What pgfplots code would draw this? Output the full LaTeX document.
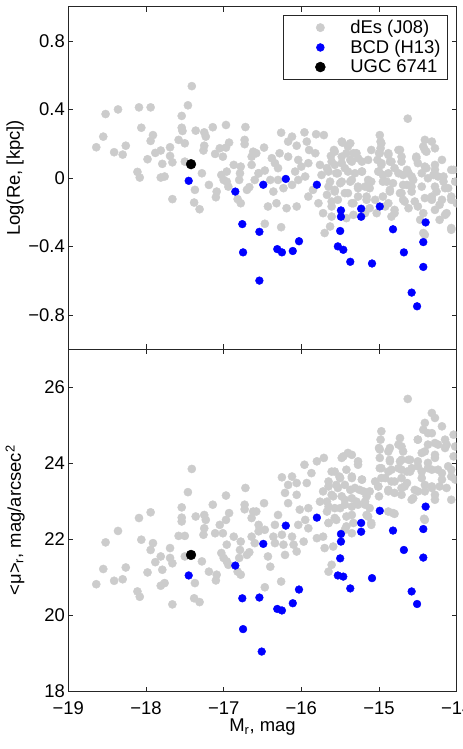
\documentclass[border=0pt]{standalone}
\usepackage{fontspec}
\setmainfont{Liberation Sans}
\usepackage{pgfplots}
\pgfplotsset{compat=1.18}
\definecolor{dEgray}{HTML}{CCCCCC}
\definecolor{bcdblue}{HTML}{0000FF}
\definecolor{frame}{HTML}{262626}
\newcommand{\fs}{\fontsize{18.5}{21}\selectfont}
\newcommand{\lfs}{\fontsize{18.5}{20}\selectfont}

\pgfplotsset{
  panel/.style={
    scale only axis,
    width=388.4bp, height=342.4bp,
    xmin=-19, xmax=-14,
    xtick={-19,-18,-17,-16,-15,-14},
    tick align=inside,
    major tick length=5bp,
    axis line style={frame, line width=0.8bp},
    every tick/.style={frame, line width=0.7bp},
    tick label style={font=\fs},
    xticklabel style={anchor=base, yshift=-22.5bp},
    label style={font=\fs},
    ylabel style={at={(axis description cs:-0.137,0.5)}, anchor=center},
    clip marker paths=true,
  },
  % the invisible path gives the marker cell its width in the legend
  dot legend/.style={legend image code/.code={%
    \path[draw=none] (0bp,0bp) -- (60bp,0bp);
    \draw[mark repeat=3, mark phase=2, ##1, only marks]
      plot coordinates {(0bp,0bp) (32bp,0bp) (60bp,0bp)};}},
  gray dot/.style={only marks, mark=*, mark size=4.1bp, mark options={fill=dEgray, draw=dEgray}, dot legend},
  blue dot/.style={only marks, mark=*, mark size=3.9bp, mark options={fill=bcdblue, draw=bcdblue}, dot legend},
  black dot/.style={only marks, mark=*, mark size=4.9bp, mark options={fill=black, draw=black}, dot legend},
}

\begin{document}
\begin{tikzpicture}
% upper panel: effective radius
\begin{axis}[panel,
  at={(0,342.4bp)},
  ymin=-1, ymax=1,
  ytick={-0.8,-0.4,0,0.4,0.8},
  yticklabels={−0.8,−0.4,0,0.4,0.8},
  xticklabels={},
  ylabel={Log(Re, [kpc])},
  legend style={at={(0.977,0.976)}, anchor=north east, draw=frame, line width=0.6bp,
    font=\lfs, inner xsep=5bp, inner ysep=3bp, row sep=1bp, cells={anchor=west}},
  legend cell align=left,
]
\addplot[gray dot] coordinates {
(-18.64,0.179)(-18.52,0.373)(-18.55,0.241)(-18.36,0.40)(-18.41,0.15)(-18.30,0.136)
(-18.26,0.188)(-18.09,0.412)(-17.94,0.412)(-18.06,0.293)(-17.91,0.25)(-17.94,0.216)
(-18.11,0.035)(-18.08,0.002)(-17.98,0.109)(-17.88,0.146)(-17.81,0.16)(-17.79,0.082)
(-17.81,0.002)(-17.76,0.008)(-17.69,0.179)(-17.69,0.128)(-17.66,0.091)(-17.66,-0.124)
(-17.58,0.222)(-17.50,0.202)(-17.54,0.362)(-17.46,0.424)(-17.41,0.536)(-17.54,0.293)
(-17.53,0.274)(-17.36,0.276)(-17.25,0.266)(-17.23,0.241)(-17.25,0.188)(-17.26,0.16)
(-17.14,0.296)(-16.97,0.309)(-16.72,0.297)(-16.73,0.222)(-16.73,0.197)(-16.93,0.206)
(-16.97,0.177)(-17.05,0.173)(-17.11,0.14)(-17.01,0.124)(-17.50,0.095)(-17.28,0.027)
(-17.37,-0.07)(-17.38,-0.144)(-17.31,-0.183)(-17.19,-0.041)(-17.09,-0.08)(-17.10,-0.113)
(-17.03,0.017)(-17.00,-0.012)(-16.96,0.037)(-16.87,0.076)(-16.78,0.066)(-16.79,0.027)
(-16.80,-0.012)(-16.64,0.076)(-16.64,0.124)(-16.62,0.153)(-16.60,-0.012)(-16.70,-0.07)
(-16.67,-0.054)(-16.82,-0.124)(-16.78,-0.148)(-16.96,-0.022)(-16.94,-0.051)(-16.55,0.027)
(-14.63,0.346)(-15.81,0.255)(-15.71,0.25)(-15.96,0.266)(-16.26,0.264)(-16.12,0.241)
(-16.17,0.212)(-16.06,0.188)(-15.93,0.212)(-15.90,0.163)(-16.48,0.177)(-16.58,0.144)
(-16.34,0.086)(-16.30,0.057)(-16.47,0.043)(-16.55,0.027)(-16.17,0.124)(-16.04,0.105)
(-16.00,0.066)(-16.08,0.037)(-15.91,0.086)(-15.76,0.076)(-15.67,0.057)(-15.74,0.017)
(-15.95,0.008)(-16.04,-0.012)(-16.12,-0.041)(-16.23,-0.06)(-16.36,-0.08)(-16.43,-0.167)
(-16.32,-0.148)(-16.19,-0.177)(-16.06,-0.167)(-15.91,-0.109)(-15.85,-0.07)(-16.47,-0.268)
(-16.26,-0.288)(-15.78,-0.148)(-15.67,-0.099)(-15.72,-0.206)(-15.61,-0.226)(-15.61,-0.167)
(-15.53,-0.128)(-15.57,-0.07)(-15.48,-0.022)(-15.55,0.027)(-15.57,0.076)(-15.62,0.128)
(-15.58,0.163)(-15.47,0.206)(-15.40,0.183)(-15.33,0.144)(-15.27,0.115)(-15.37,0.105)
(-15.44,0.057)(-15.31,0.027)(-15.22,0.037)(-15.35,-0.012)(-15.27,-0.06)(-15.40,-0.089)
(-15.35,-0.148)(-15.16,-0.128)(-15.12,-0.177)(-15.18,-0.206)(-15.33,-0.216)(-15.42,-0.235)
(-15.03,-0.206)(-15.12,-0.06)(-15.10,-0.022)(-15.18,-0.051)(-14.99,0.25)(-14.98,0.212)
(-14.98,0.173)(-15.00,0.144)(-15.02,0.105)(-14.97,0.076)(-15.00,0.037)(-14.95,0.017)
(-14.88,0.134)(-14.86,0.095)(-14.80,0.057)(-14.75,0.163)(-14.71,0.124)(-14.90,-0.022)
(-14.86,-0.07)(-14.95,-0.109)(-14.88,-0.148)(-14.80,-0.187)(-14.84,-0.226)(-14.71,-0.089)
(-14.69,-0.128)(-14.62,-0.177)(-14.64,-0.041)(-14.58,0.008)(-14.64,0.047)(-14.69,0.017)
(-14.52,0.124)(-14.50,0.086)(-14.43,0.183)(-14.39,0.153)(-14.28,0.173)(-14.41,0.222)
(-14.39,0.057)(-14.45,0.027)(-14.37,-0.002)(-14.28,0.047)(-14.24,0.008)(-14.17,-0.022)
(-14.07,0.047)(-14.02,-0.022)(-14.11,-0.06)(-14.26,-0.08)(-14.32,-0.128)(-14.22,-0.157)
(-14.07,-0.128)(-14.00,-0.148)(-14.13,-0.206)(-14.22,-0.245)(-14.07,-0.303)(-14.43,-0.206)
(-14.50,-0.167)(-14.41,-0.332)(-14.47,-0.245)(-14.58,-0.051)(-15.10,0.163)(-15.14,0.105)
(-15.65,-0.051)(-15.48,0.124)(-15.82,0.144)(-16.30,-0.012)(-16.40,-0.012)(-16.28,0.144)
(-16.38,0.115)
(-15.48,0.212)(-15.37,0.202)(-15.57,0.153)(-15.42,0.144)(-15.29,0.144)(-15.61,0.095)
(-15.48,0.086)(-15.35,0.095)(-15.22,0.095)(-15.65,0.037)(-15.53,0.027)(-15.40,0.037)
(-15.22,0.037)(-15.63,-0.022)(-15.50,-0.031)(-15.37,-0.022)(-15.27,-0.051)(-15.14,-0.012)
(-15.57,-0.08)(-15.44,-0.089)(-15.27,-0.109)(-15.16,-0.109)(-15.61,-0.138)(-15.33,-0.148)
(-15.05,-0.128)(-14.97,0.202)(-14.99,0.144)(-14.88,0.144)(-14.84,0.095)(-14.97,0.086)
(-15.01,0.037)(-14.88,0.027)(-14.73,0.163)(-14.71,0.095)(-14.75,0.027)(-14.62,0.027)
(-14.95,-0.022)(-14.82,-0.031)(-14.69,-0.041)(-14.56,-0.012)(-14.86,-0.08)(-14.73,-0.089)
(-14.58,-0.08)(-14.45,-0.051)(-14.67,-0.138)(-14.54,-0.138)(-14.41,-0.118)(-14.52,0.115)
(-14.41,0.163)(-14.32,0.212)(-14.41,0.066)(-14.28,0.076)(-14.19,0.105)(-14.30,0.017)
(-14.17,0.008)(-14.04,0.047)(-14.28,-0.051)(-14.15,-0.06)(-14.32,-0.109)(-14.19,-0.128)
(-14.07,-0.109)(-14.28,-0.187)(-14.15,-0.216)(-14.07,-0.293)(-14.80,-0.206)(-14.92,-0.167)
(-15.63,-0.284)(-15.70,-0.322)(-14.43,-0.322)
};
\addlegendentry{dEs (J08)}
\addplot[blue dot] coordinates {
(-17.45,-0.017)(-16.85,-0.08)(-16.76,-0.27)(-16.75,-0.435)(-16.54,-0.315)(-16.54,-0.60)
(-16.49,-0.04)(-16.20,-0.006)(-15.80,-0.04)(-16.31,-0.416)(-16.25,-0.435)(-16.11,-0.427)
(-16.03,-0.37)(-15.49,-0.19)(-15.49,-0.227)(-15.23,-0.18)(-15.23,-0.227)(-14.99,-0.167)
(-15.50,-0.31)(-15.53,-0.40)(-15.46,-0.42)(-15.37,-0.49)(-15.09,-0.50)(-14.82,-0.30)
(-14.68,-0.435)(-14.40,-0.26)(-14.43,-0.375)(-14.43,-0.52)(-14.58,-0.67)(-14.51,-0.75)
};
\addlegendentry{BCD (H13)}
\addplot[black dot] coordinates {(-17.42,0.08)};
\addlegendentry{UGC 6741}
\end{axis}

% lower panel: mean surface brightness
\begin{axis}[panel,
  at={(0,0)},
  ymin=18, ymax=27,
  ytick={18,20,22,24,26},
  yticklabels={18,20,22,24,26},
  xticklabels={−19,−18,−17,−16,−15,−14},
  xlabel={M\textsubscript{r}, mag},
  ylabel={<μ>\textsubscript{r}, mag/arcsec\textsuperscript{2}},
  xlabel style={at={(axis description cs:0.5,-0.117)}, anchor=base},
]
\addplot[gray dot] coordinates {
(-18.64,20.82)(-18.55,21.22)(-18.52,21.92)(-18.36,22.22)(-18.41,20.91)(-18.30,20.95)
(-18.26,21.26)(-18.09,22.56)(-17.94,22.71)(-18.06,21.99)(-17.91,21.90)(-17.94,21.72)
(-18.11,20.63)(-18.08,20.49)(-17.98,21.13)(-17.88,21.40)(-17.81,21.55)(-17.79,21.20)
(-17.81,20.78)(-17.76,20.85)(-17.69,21.77)(-17.69,21.51)(-17.66,21.37)(-17.66,20.29)
(-17.58,22.09)(-17.50,22.09)(-17.54,22.47)(-17.54,22.57)(-17.46,23.24)(-17.41,23.85)
(-17.54,22.84)(-17.36,22.60)(-17.25,22.64)(-17.23,22.51)(-17.25,22.29)(-17.26,22.12)
(-17.14,22.91)(-16.97,23.15)(-16.72,23.35)(-16.73,22.91)(-16.73,22.79)(-16.93,22.69)
(-16.97,22.51)(-17.05,22.38)(-17.11,22.16)(-17.01,22.16)(-17.50,21.55)(-17.28,21.42)
(-17.37,20.85)(-17.38,20.45)(-17.31,20.35)(-17.19,21.15)(-17.09,21.07)(-17.10,20.92)
(-17.03,21.64)(-17.00,21.51)(-16.96,21.86)(-16.87,22.07)(-16.78,21.94)(-16.79,21.72)
(-16.80,21.51)(-16.64,22.07)(-16.64,22.56)(-16.62,22.73)(-16.60,21.90)(-16.70,21.59)
(-16.67,21.66)(-16.82,21.15)(-16.78,21.07)(-16.96,21.42)(-16.94,21.33)(-16.55,22.21)
(-14.63,25.69)(-14.32,25.32)(-14.28,25.19)(-14.41,25.06)(-14.43,24.88)(-14.19,24.97)
(-14.32,24.79)(-14.50,24.62)(-14.04,24.75)(-14.02,24.44)(-14.13,24.49)(-14.24,24.49)
(-14.37,24.49)(-14.45,24.27)(-14.28,24.14)(-14.37,24.01)(-14.50,24.05)(-14.62,24.09)
(-14.58,23.87)(-14.45,23.78)(-14.32,23.83)(-14.19,23.74)(-14.07,23.83)(-14.02,23.57)
(-14.13,23.35)(-14.22,23.39)(-14.32,23.35)(-14.41,23.43)(-14.50,23.26)(-14.56,23.08)
(-14.28,23.17)(-14.07,23.04)(-14.42,22.54)(-14.73,24.66)(-14.75,24.49)(-14.69,24.31)
(-14.71,24.09)(-14.75,23.87)(-14.64,23.78)(-14.71,23.61)(-14.71,23.35)(-14.64,23.48)
(-14.80,23.22)(-14.88,23.26)(-14.84,23.52)(-14.88,23.78)(-14.86,24.05)(-14.88,24.31)
(-14.97,24.84)(-14.98,24.62)(-15.00,24.40)(-14.99,24.14)(-14.99,23.87)(-14.97,23.61)
(-15.01,23.39)(-15.00,23.13)(-14.88,22.73)(-14.80,22.67)(-15.12,23.26)(-15.05,23.52)
(-15.18,22.99)(-15.12,22.82)(-15.10,22.43)(-15.16,22.64)(-15.35,24.22)(-15.46,24.18)
(-15.27,23.96)(-15.42,23.83)(-15.57,23.78)(-15.65,23.52)(-15.51,23.65)(-15.35,23.61)
(-15.22,23.57)(-15.55,23.43)(-15.44,23.43)(-15.31,23.35)(-15.20,23.26)(-15.72,23.26)
(-15.61,23.17)(-15.48,23.13)(-15.35,23.08)(-15.27,22.91)(-15.76,22.99)(-15.67,22.99)
(-15.57,22.82)(-15.44,22.91)(-15.35,22.64)(-15.67,22.73)(-15.55,22.51)(-15.65,22.43)
(-15.42,22.34)(-15.35,22.16)(-15.80,22.03)(-15.72,22.07)(-15.70,21.77)(-15.59,21.81)
(-15.61,21.33)(-15.65,21.15)(-15.80,24.05)(-15.71,24.14)(-15.96,23.96)(-15.87,23.74)
(-15.93,23.48)(-16.25,23.63)(-16.12,23.65)(-16.17,23.43)(-16.06,23.48)(-16.21,23.22)
(-16.06,23.17)(-16.17,22.95)(-16.02,22.78)(-15.91,22.82)(-15.95,22.51)(-16.04,22.38)
(-15.91,22.29)(-15.97,21.94)(-16.12,22.07)(-16.10,21.86)(-16.25,22.12)(-16.34,22.38)
(-16.36,22.07)(-16.23,21.86)(-16.47,22.25)(-16.55,22.38)(-16.58,22.73)(-16.48,22.95)
(-16.43,21.55)(-16.40,21.28)(-16.47,20.74)(-16.26,20.89)(-16.21,21.59)(-16.06,21.68)
(-16.34,21.90)(-16.30,22.64)
(-14.99,24.36)(-14.86,24.40)(-14.71,24.44)(-14.86,24.09)(-14.73,24.05)(-14.60,24.09)
(-14.50,24.62)(-14.37,24.79)(-14.28,24.53)(-14.15,24.62)(-14.41,24.31)(-14.28,24.22)
(-14.15,24.40)(-14.04,24.18)(-14.50,23.92)(-14.37,23.87)(-14.24,23.83)(-14.11,23.92)
(-14.45,23.61)(-14.32,23.39)(-14.19,23.57)(-14.07,23.65)(-14.60,23.78)(-14.71,23.83)
(-14.84,23.83)(-14.97,23.87)(-14.92,23.61)(-14.80,23.52)(-14.67,23.39)(-14.54,23.30)
(-14.41,23.26)(-14.28,23.04)(-15.01,23.39)(-14.88,23.30)(-14.71,23.17)(-14.58,23.04)
(-15.40,24.27)(-15.48,24.14)(-15.27,24.05)(-15.61,23.78)(-15.50,23.61)(-15.35,23.65)
(-15.22,23.57)(-15.65,23.39)(-15.53,23.35)(-15.37,23.30)(-15.25,23.30)(-15.59,23.13)
(-15.44,23.04)(-15.29,22.99)(-15.16,23.13)(-15.65,22.86)(-15.50,22.82)(-15.35,22.86)
(-15.18,22.91)(-15.57,22.56)(-15.42,22.60)(-15.14,22.60)(-15.33,22.43)(-15.10,22.38)
(-15.44,22.25)(-15.65,22.43)(-14.82,22.69)(-14.41,22.51)
};
\addplot[blue dot] coordinates {
(-17.45,21.05)(-16.85,21.31)(-16.76,20.45)(-16.75,19.64)(-16.54,20.47)(-16.51,19.05)
(-16.49,21.88)(-16.20,22.36)(-15.80,22.57)(-16.31,20.17)(-16.25,20.13)(-16.11,20.32)
(-16.03,20.68)(-15.49,22.14)(-15.49,21.94)(-15.23,22.43)(-15.23,22.20)(-14.99,22.75)
(-15.50,21.50)(-15.53,21.05)(-15.46,21.02)(-15.37,20.71)(-15.09,20.98)(-14.82,22.23)
(-14.68,21.72)(-14.40,22.86)(-14.43,22.27)(-14.43,21.52)(-14.58,20.63)(-14.51,20.30)
};
\addplot[black dot] coordinates {(-17.42,21.59)};
\end{axis}
\pgfresetboundingbox
\path[use as bounding box] (-68.3bp,-57.5bp) rectangle (394.7bp,691.5bp);
\end{tikzpicture}
\end{document}
